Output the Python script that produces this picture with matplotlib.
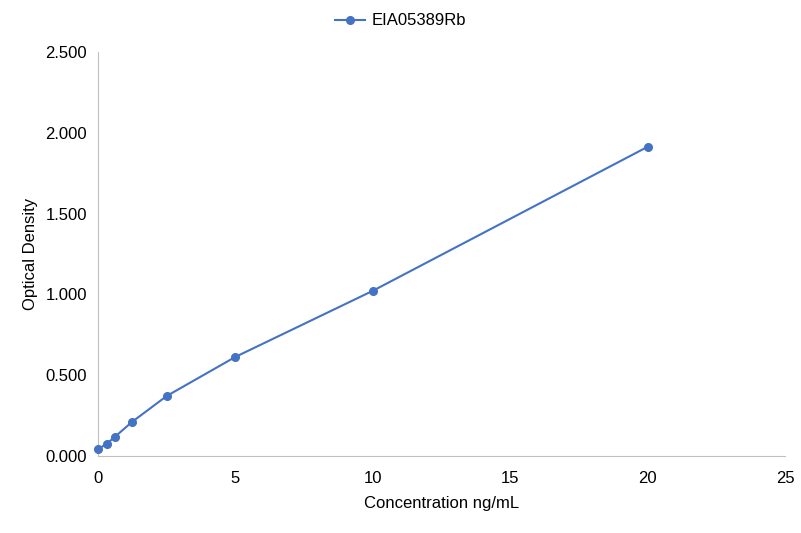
import matplotlib
matplotlib.use("Agg")
import matplotlib.pyplot as plt
from matplotlib.ticker import FormatStrFormatter

plt.rcParams['font.family'] = ['Liberation Sans', 'DejaVu Sans']

# standard curve readings
concentration = [0, 0.3125, 0.625, 1.25, 2.5, 5, 10, 20]
optical_density = [0.043, 0.074, 0.120, 0.212, 0.371, 0.613, 1.022, 1.913]
series_name = 'EIA05389Rb'

fig = plt.figure(figsize=(8.01, 5.33), dpi=100)
ax = fig.add_axes([0.1223, 0.1445, 0.8577, 0.758])

blue = '#4472C4'
ax.plot(concentration, optical_density, '-o', color=blue, linewidth=1.5,
        markersize=5.5, label=series_name, clip_on=False, zorder=3)

ax.set_xlim(0, 25)
ax.set_ylim(0, 2.5)
ax.set_xticks([0, 5, 10, 15, 20, 25])
ax.set_yticks([0, 0.5, 1.0, 1.5, 2.0, 2.5])
ax.yaxis.set_major_formatter(FormatStrFormatter('%.3f'))

for side in ['top', 'right']:
    ax.spines[side].set_visible(False)
for side in ['left', 'bottom']:
    ax.spines[side].set_color('#BFBFBF')
ax.tick_params(length=0, labelsize=12, colors='black', pad=8)
ax.tick_params(axis='x', pad=11)

ax.set_xlabel('Concentration ng/mL', fontsize=12, color='black', labelpad=7)
ax.set_ylabel('Optical Density', fontsize=12, color='black', labelpad=5)

fig.legend(loc='upper center', bbox_to_anchor=(0.5, 1.003), frameon=False,
           fontsize=12, handlelength=1.8, handletextpad=0.45)

fig.savefig('out.png', dpi=100)
